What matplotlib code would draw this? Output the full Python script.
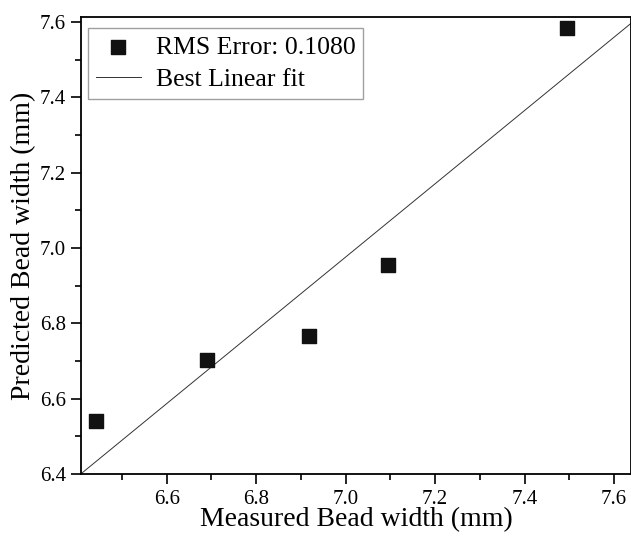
import matplotlib
matplotlib.use("Agg")
import matplotlib.pyplot as plt
import numpy as np
from matplotlib.ticker import MultipleLocator

# measured vs predicted bead width (mm)
measured = [6.441, 6.691, 6.918, 7.094, 7.496]
predicted = [6.541, 6.703, 6.766, 6.955, 7.584]

# best linear fit line
fit_slope = 0.973
fit_intercept = 0.165

x_ticks = [6.6, 6.8, 7.0, 7.2, 7.4, 7.6]
y_ticks = [6.4, 6.6, 6.8, 7.0, 7.2, 7.4, 7.6]

plt.rcParams['font.family'] = ['Liberation Serif', 'DejaVu Serif']

fig = plt.figure(figsize=(6.31, 5.38), dpi=100)
ax = fig.add_axes([0.128, 0.119, 0.872, 0.849])

xlim = (6.408, 7.638)
ylim = (6.4, 7.613)

ax.scatter(measured, predicted, marker='s', s=90, color='#111111',
           label='RMS Error: 0.1080', zorder=3)
fx = np.array(xlim)
ax.plot(fx, fit_slope * fx + fit_intercept, color='#333333', lw=0.7,
        label='Best Linear fit')

ax.set_xlim(*xlim)
ax.set_ylim(*ylim)
ax.set_xticks(x_ticks)
ax.set_yticks(y_ticks)
ax.set_xticklabels(['%.1f' % v for v in x_ticks])
ax.set_yticklabels(['%.1f' % v for v in y_ticks])
ax.xaxis.set_minor_locator(MultipleLocator(0.1))
ax.yaxis.set_minor_locator(MultipleLocator(0.1))
ax.tick_params(which='major', direction='out', length=7.5, width=1.2,
               labelsize=15, top=False, right=False)
ax.tick_params(axis='x', which='major', pad=4)
ax.tick_params(axis='y', which='major', pad=3)
ax.tick_params(which='minor', direction='out', length=4, width=1.2,
               top=False, right=False)
for s in ax.spines.values():
    s.set_linewidth(1.3)

ax.set_xlabel('Measured Bead width (mm)', fontsize=20, labelpad=-1)
ax.set_ylabel('Predicted Bead width (mm)', fontsize=20, labelpad=3)

leg = ax.legend(loc='upper left', bbox_to_anchor=(0.013, 0.976),
                borderaxespad=0, fontsize=18.5, frameon=True, fancybox=False,
                edgecolor='#888888', handlelength=1.75, handletextpad=0.6,
                labelspacing=0.35, borderpad=0.3, scatterpoints=1)
leg.get_frame().set_linewidth(1.0)

fig.savefig('out.png', dpi=100)
